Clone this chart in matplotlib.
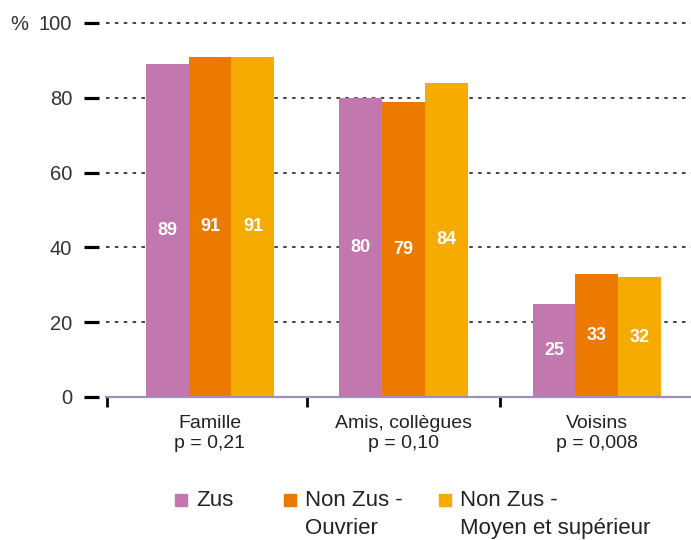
import matplotlib.pyplot as plt
from matplotlib.patches import Rectangle
import numpy as np

plt.rcParams['font.family'] = ['Liberation Sans', 'DejaVu Sans']

categories = ['Famille\np = 0,21', 'Amis, collègues\np = 0,10', 'Voisins\np = 0,008']
series = ['Zus', 'Non Zus -\nOuvrier', 'Non Zus -\nMoyen et supérieur']
zus = [89, 80, 25]
ouvrier = [91, 79, 33]
moyen = [91, 84, 32]
values = [zus, ouvrier, moyen]
colors = ['#c277ae', '#ec7a00', '#f6ab00']
yticks = [0, 20, 40, 60, 80, 100]

W, H = 691, 540
fig = plt.figure(figsize=(W / 100, H / 100), dpi=100)
ax = fig.add_axes([106 / W, 1 - 397 / H, (691 - 106) / W, (397 - 23) / H])

x = np.arange(len(categories))
w = 0.222
for i in range(len(series)):
    xs = x + (i - 1) * w
    ax.bar(xs, values[i], width=w, color=colors[i], zorder=3)
    for xi, v in zip(xs, values[i]):
        ax.text(xi, v / 2, str(v), ha='center', va='center', color='white',
                fontsize=13, fontweight='bold', zorder=4)

x0 = -0.5375
ax.set_xlim(x0, 2.486)
ax.set_ylim(0, 100)

# dashed grid
for t in yticks[1:]:
    ax.axhline(t, color='#111111', lw=1.1, ls=(0, (2.3, 3.5)), zorder=1, clip_on=False)

for s in ['top', 'right', 'left']:
    ax.spines[s].set_visible(False)
ax.spines['left'].set_position(('outward', 5))
ax.spines['bottom'].set_color('#9d8fc0')
ax.spines['bottom'].set_linewidth(1.6)
ax.spines['bottom'].set_zorder(5)

ax.set_yticks(yticks)
ax.set_yticklabels([str(t) for t in yticks], fontsize=14.5, color='#333333')
ax.tick_params(axis='y', length=10.8, width=2.3, color='black', pad=8.6)

ax.set_xticks(x)
ax.set_xticklabels(categories, fontsize=14, color='#222222', linespacing=1.25)
ax.tick_params(axis='x', which='major', length=0, pad=13)
ax.set_xticks([x0 + 0.003, 0.5, 1.5], minor=True)
ax.tick_params(axis='x', which='minor', length=7.2, width=2, color='black')

fig.text(10 / W, 1 - 25 / H, '%', fontsize=14.5, color='#333333', va='center')

# legend
leg_x = [175, 284, 439]
for lx, name, c in zip(leg_x, series, colors):
    fig.patches.append(Rectangle((lx / W, 1 - 506 / H), 12 / W, 12 / H,
                                 transform=fig.transFigure, color=c))
    for k, line in enumerate(name.split('\n')):
        fig.text((lx + 21) / W, 1 - (506 + 28 * k) / H, line, fontsize=16,
                 color='#222222', va='baseline', ha='left')

fig.savefig('out.png', dpi=100)
